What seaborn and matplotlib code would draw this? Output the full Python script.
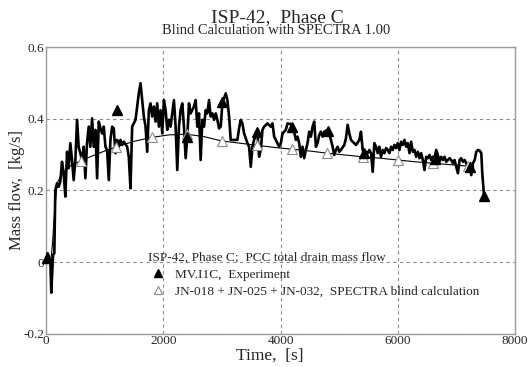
import matplotlib
matplotlib.use("Agg")
import matplotlib.pyplot as plt
from matplotlib.lines import Line2D
from matplotlib.ticker import MultipleLocator, FuncFormatter
import pandas as pd
import seaborn as sns

# Measured PCC total drain mass flow (MV.I1C)
exp_t = [0, 27, 74, 90, 120, 142, 159, 188, 215, 244, 273, 301, 330, 359, 387, 415, 444, 472, 501,
         530, 557, 586, 615, 643, 672, 700, 729, 757, 786, 814, 843, 872, 900, 928, 957, 985, 1014,
         1042, 1071, 1099, 1128, 1156, 1185, 1213, 1242, 1270, 1299, 1327, 1384, 1412, 1441, 1470,
         1527, 1583, 1612, 1641, 1669, 1698, 1726, 1755, 1783, 1812, 1840, 1869, 1897, 1926, 1954,
         1983, 2011, 2040, 2068, 2097, 2125, 2182, 2211, 2239, 2268, 2296, 2325, 2353, 2382, 2410,
         2439, 2467, 2524, 2553, 2581, 2610, 2638, 2667, 2695, 2724, 2752, 2781, 2809, 2838, 2866,
         2895, 2923, 2952, 2980, 3009, 3037, 3066, 3094, 3123, 3151, 3208, 3265, 3293, 3322, 3350,
         3379, 3436, 3464, 3493, 3521, 3550, 3578, 3607, 3635, 3664, 3692, 3721, 3778, 3835, 3863,
         3892, 3920, 3977, 4006, 4034, 4091, 4120, 4177, 4233, 4262, 4290, 4319, 4347, 4376, 4404,
         4433, 4461, 4490, 4518, 4547, 4575, 4604, 4632, 4661, 4689, 4718, 4746, 4803, 4832, 4860,
         4889, 4917, 4946, 4974, 5003, 5031, 5088, 5117, 5145, 5174, 5202, 5231, 5288, 5345, 5373,
         5402, 5430, 5459, 5487, 5516, 5544, 5573, 5601, 5630, 5658, 5687, 5715, 5744, 5772, 5801,
         5829, 5858, 5886, 5915, 5943, 5972, 6000, 6029, 6057, 6086, 6114, 6143, 6171, 6200, 6228,
         6257, 6285, 6314, 6342, 6371, 6399, 6428, 6456, 6485, 6513, 6542, 6570, 6599, 6627, 6656,
         6684, 6713, 6741, 6770, 6798, 6827, 6855, 6884, 6912, 6941, 6969, 6998, 7026, 7055, 7083,
         7112, 7140, 7169, 7197, 7226, 7254, 7283, 7311, 7340, 7368, 7397, 7425, 7442, 7471]
exp_v = [0.015, 0.025, 0.006, -0.085, 0.02, 0.025, 0.201, 0.22, 0.21, 0.225, 0.28, 0.248, 0.183,
         0.308, 0.262, 0.332, 0.285, 0.229, 0.285, 0.397, 0.322, 0.304, 0.285, 0.322, 0.234, 0.332,
         0.378, 0.322, 0.401, 0.322, 0.369, 0.234, 0.392, 0.373, 0.359, 0.378, 0.322, 0.313, 0.229,
         0.341, 0.378, 0.373, 0.304, 0.341, 0.322, 0.341, 0.327, 0.336, 0.322, 0.294, 0.206, 0.378,
         0.397, 0.471, 0.499, 0.452, 0.406, 0.378, 0.308, 0.424, 0.443, 0.406, 0.434, 0.392, 0.443,
         0.378, 0.424, 0.359, 0.452, 0.424, 0.369, 0.397, 0.378, 0.452, 0.378, 0.257, 0.378, 0.424,
         0.443, 0.378, 0.290, 0.350, 0.443, 0.415, 0.434, 0.452, 0.378, 0.415, 0.285, 0.397, 0.378,
         0.424, 0.415, 0.452, 0.406, 0.415, 0.397, 0.415, 0.397, 0.373, 0.378, 0.445, 0.457, 0.471,
         0.452, 0.406, 0.341, 0.341, 0.341, 0.373, 0.397, 0.387, 0.359, 0.332, 0.322, 0.266, 0.322,
         0.341, 0.355, 0.359, 0.294, 0.313, 0.369, 0.378, 0.387, 0.378, 0.387, 0.350, 0.341, 0.322,
         0.332, 0.359, 0.369, 0.387, 0.385, 0.364, 0.341, 0.350, 0.332, 0.294, 0.322, 0.290, 0.313,
         0.332, 0.364, 0.350, 0.378, 0.392, 0.322, 0.332, 0.355, 0.364, 0.350, 0.364, 0.369, 0.359,
         0.341, 0.322, 0.299, 0.313, 0.322, 0.308, 0.313, 0.327, 0.346, 0.383, 0.359, 0.341, 0.336,
         0.327, 0.341, 0.364, 0.313, 0.304, 0.308, 0.304, 0.313, 0.304, 0.252, 0.332, 0.322, 0.304,
         0.322, 0.294, 0.313, 0.304, 0.318, 0.313, 0.304, 0.322, 0.313, 0.327, 0.318, 0.332, 0.313,
         0.336, 0.327, 0.341, 0.322, 0.332, 0.304, 0.336, 0.308, 0.313, 0.294, 0.308, 0.290, 0.304,
         0.285, 0.257, 0.294, 0.290, 0.299, 0.285, 0.294, 0.290, 0.313, 0.299, 0.280, 0.294, 0.285,
         0.294, 0.280, 0.285, 0.290, 0.285, 0.276, 0.285, 0.266, 0.248, 0.285, 0.290, 0.280, 0.285,
         0.276, 0.262, 0.266, 0.243, 0.276, 0.285, 0.308, 0.313, 0.311, 0.304, 0.248, 0.187]

# Symbols of the measured series
exp_mark_t = [20, 1214, 2410, 2995, 3607, 4190, 4803, 5419, 6627, 7226, 7471]
exp_mark_v = [0.012, 0.424, 0.350, 0.448, 0.362, 0.378, 0.366, 0.305, 0.287, 0.265, 0.185]

# SPECTRA blind calculation (JN-018 + JN-025 + JN-032)
sim_t = [0, 80, 110, 150, 190, 250, 350, 450, 600, 800, 1000, 1200, 1500, 1800, 2100, 2400, 2700,
         3000, 3300, 3600, 3900, 4200, 4500, 4800, 5100, 5400, 5700, 6000, 6300, 6600, 6900, 7200, 7300]
sim_v = [0.0, 0.0, 0.05, 0.15, 0.22, 0.24, 0.26, 0.272, 0.283, 0.297, 0.31, 0.322, 0.337, 0.348,
         0.355, 0.357, 0.35, 0.338, 0.332, 0.326, 0.32, 0.315, 0.31, 0.304, 0.299, 0.294, 0.29,
         0.285, 0.28, 0.276, 0.272, 0.268, 0.266]

title = "ISP-42,  Phase C"
subtitle = "Blind Calculation with SPECTRA 1.00"
legend_title = "ISP-42, Phase C;  PCC total drain mass flow"
exp_label = "MV.I1C,  Experiment"
sim_label = "JN-018 + JN-025 + JN-032,  SPECTRA blind calculation"

sns.set_style("white")
plt.rcParams["font.family"] = ["Liberation Serif", "DejaVu Serif"]

GRID = "#8a8a8a"
FRAME = "#9c9c9c"

fig = plt.figure(figsize=(5.29, 3.67), dpi=100)
ax = fig.add_axes([46 / 529, 1 - 334 / 367, 469 / 529, 287 / 367])

exp_df = pd.DataFrame({"t": exp_t, "v": exp_v})

sns.lineplot(data=exp_df, x="t", y="v", ax=ax, sort=False, estimator=None,
             color="black", linewidth=1.9, zorder=3)
sim_marks = [i for i, t in enumerate(sim_t) if t >= 600 and t % 600 == 0]
ax.plot(sim_t, sim_v, color="black", linewidth=0.8, zorder=4,
        marker="^", markevery=sim_marks, markersize=6.5,
        markerfacecolor="white", markeredgecolor="#8c8c8c", markeredgewidth=0.8)
ax.plot(exp_mark_t, exp_mark_v, linestyle="none", marker="^", markersize=6.5,
        color="black", zorder=5, clip_on=False)

ax.set_xlim(0, 8000)
ax.set_ylim(-0.2, 0.6)
ax.xaxis.set_major_locator(MultipleLocator(2000))
ax.xaxis.set_minor_locator(MultipleLocator(1000))
ax.yaxis.set_major_locator(MultipleLocator(0.2))
ax.yaxis.set_minor_locator(MultipleLocator(0.1))
ax.yaxis.set_major_formatter(FuncFormatter(lambda v, p: "0" if abs(v) < 1e-9 else f"{v:.1f}"))
ax.xaxis.set_major_formatter(FuncFormatter(lambda v, p: f"{v:.0f}"))

ax.grid(True, which="major", color=GRID, linestyle=(0, (3, 3)), linewidth=0.8)
ax.set_axisbelow(True)
for s in ax.spines.values():
    s.set_color(FRAME)
    s.set_linewidth(1.0)

ax.tick_params(which="both", direction="in", color=FRAME, width=0.8)
ax.tick_params(which="major", length=5, labelsize=9.5)
ax.tick_params(which="minor", length=5)
ax.tick_params(axis="y", pad=1)
ax.tick_params(axis="x", pad=1)

ax.set_xlabel("Time,  [s]", fontsize=12.5)
ax.xaxis.set_label_coords((270 - 46) / 469, -0.046)
ax.set_ylabel("Mass flow,  [kg/s]", fontsize=12)
ax.yaxis.set_label_coords(-0.045, 0.5)

fig.text(277 / 529, 1 - 22 / 367, title, ha="center", va="baseline", fontsize=14)
fig.text(276 / 529, 1 - 34.5 / 367, subtitle, ha="center", va="baseline", fontsize=10.5)

handles = [
    Line2D([], [], linestyle="none", marker="^", color="black", markersize=6),
    Line2D([], [], linestyle="none", marker="^", markersize=6, markerfacecolor="white",
           markeredgecolor="#8c8c8c", markeredgewidth=0.8),
]
leg = ax.legend(handles, [exp_label, sim_label], title=legend_title, loc="upper left",
                bbox_to_anchor=(0.1985, 0.318), frameon=False, fontsize=9.5,
                title_fontsize=9.5, handlelength=1.5, handletextpad=0.55,
                labelspacing=0.35, borderpad=0.2)
leg._legend_box.align = "left"

fig.savefig("out.png", dpi=100)
